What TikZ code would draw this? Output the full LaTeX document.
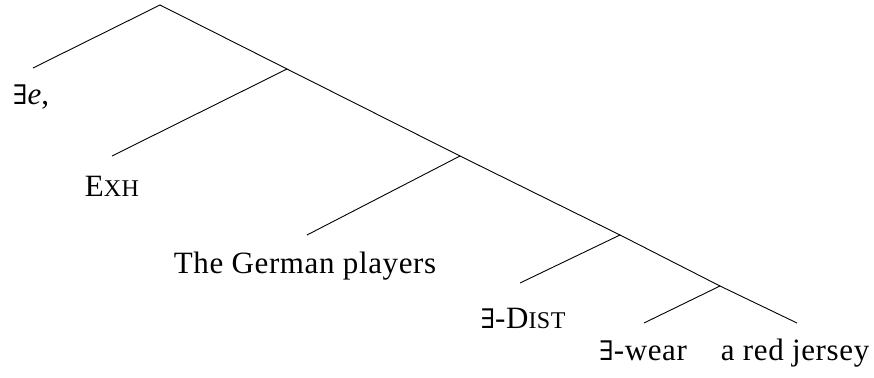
\documentclass[tikz,border=0pt]{standalone}
\usepackage{fontspec}
\setmainfont{Liberation Serif}[LetterSpace=2]
\newfontfamily\exfont{DejaVu Serif}
\newcommand{\smc}[1]{{\fontsize{24}{24}\selectfont #1}}
\newcommand{\ex}{{\exfont\fontsize{27}{27}\selectfont ∃}}
\begin{document}
\begin{tikzpicture}[x=1pt,y=-1pt,line width=0.9pt,
  lbl/.style={anchor=base,inner sep=0pt,font=\fontsize{31}{36}\selectfont}]
\useasboundingbox (0,0) rectangle (874,377);
\coordinate (root) at (160,5);
\coordinate (n1) at (287,69);
\coordinate (n2) at (460,156);
\coordinate (n3) at (620,235);
\coordinate (n4) at (720,286);
\coordinate (l0) at (33,68);
\coordinate (l1) at (112,156);
\coordinate (l2) at (307,235);
\coordinate (l3) at (520,283);
\coordinate (l4) at (644,323);
\coordinate (r4) at (797,323);
\draw (l0) -- (root) -- (n1) -- (n2) -- (n3) -- (n4) -- (r4);
\draw (n1) -- (l1);
\draw (n2) -- (l2);
\draw (n3) -- (l3);
\draw (n4) -- (l4);
\node[lbl] (t0) at (31,105) {\ex\textit{e},};
\node[lbl] (t1) at (112,196) {E\smc{XH}};
\node[lbl] (t2) at (305,273) {The German players};
\node[lbl] (t3) at (523,328) {\ex-D\smc{IST}};
\node[lbl] (t4) at (643,360) {\ex-wear};
\node[lbl] (t5) at (795,360) {a red jersey};
\end{tikzpicture}
\end{document}
